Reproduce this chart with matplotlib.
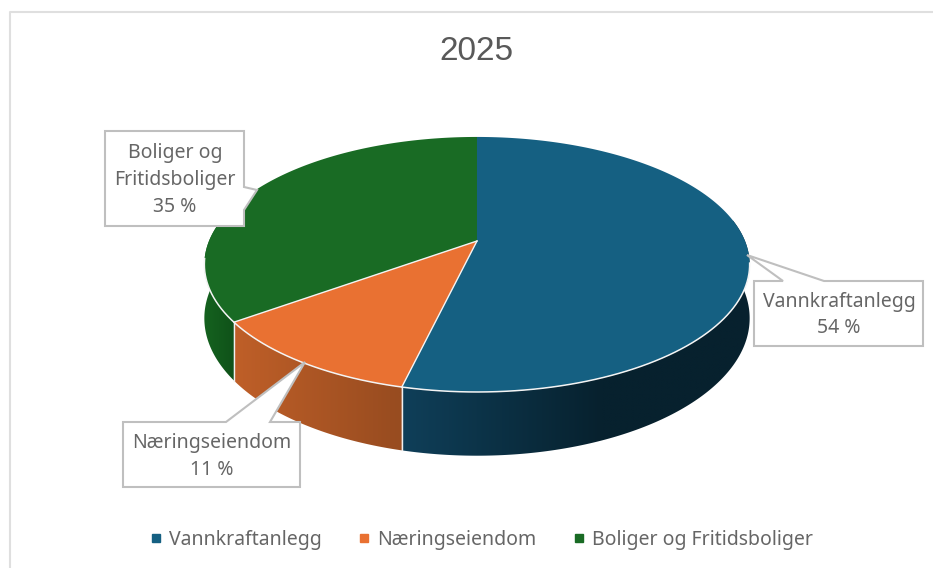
import numpy as np
import matplotlib
matplotlib.use("Agg")
import matplotlib.pyplot as plt
from matplotlib.lines import Line2D
from matplotlib.patches import Polygon
from matplotlib.colors import to_rgb

title = "2025"
categories = ["Vannkraftanlegg", "Næringseiendom", "Boliger og Fritidsboliger"]
values = [53.7, 11.3, 35.0]
label_lines = ["Vannkraftanlegg", "Næringseiendom", "Boliger og\nFritidsboliger"]
colors = ["#156082", "#E97132", "#196B24"]
side_left = ["#0F3F59", "#BF5F28", "#15621F"]
side_right = ["#07212E", "#984C20", "#0E4F18"]
side_span = [200, 165, 35]

W, H = 933, 568
CX, CY, B, A, K = 477.0, 241.0, 268.0, 123.2, 0.184
D = 52.0
TXT = "#666666"
FONT = "Noto Sans"


def project(theta):
    u, v = np.sin(theta), np.cos(theta)
    den = 1 + K * v
    return CX + B * u / den, CY - A * v / den


def project_low(theta):
    x, y = project(theta)
    return x, y + D / (1 + K * np.cos(theta))


fig = plt.figure(figsize=(W / 100, H / 100), dpi=100, facecolor="white")
ax = fig.add_axes([0, 0, 1, 1])
ax.axis("off")

# chart frame (only top and left fall inside the image)
ax.plot([W, 9.5, 9.5], [11.5, 11.5, H], color="#DFDFDF", lw=1.5, zorder=1)

edges = np.r_[0, np.cumsum(values)] / sum(values) * 2 * np.pi

# side wall, shaded from left to right
for i in range(len(values)):
    a0_v, a1_v = max(edges[i], np.radians(80)), min(edges[i + 1], np.radians(285))
    if a1_v <= a0_v:
        continue
    th = np.linspace(a0_v, a1_v, 200)
    xa, ya = project(th)
    xb, yb = project_low(th)
    lo, hi = xa.min(), xa.max()
    cols = np.linspace(lo, hi, 300)
    f = np.clip((cols - lo) / side_span[i], 0, 1)[None, :, None]
    c0, c1 = np.array(to_rgb(side_left[i])), np.array(to_rgb(side_right[i]))
    img = ax.imshow(c0 + (c1 - c0) * f, extent=(lo, hi, yb.max() + 1, min(ya.min(), yb.min()) - 1),
                    aspect="auto", interpolation="bilinear", zorder=2)
    poly = Polygon(np.c_[np.r_[xa, xb[::-1]], np.r_[ya, yb[::-1]]], transform=ax.transData,
                   facecolor="none", edgecolor="none")
    ax.add_patch(poly)
    img.set_clip_path(poly)

# top face
for i in range(len(values)):
    th = np.linspace(edges[i], edges[i + 1], 200)
    x, y = project(th)
    ax.fill(np.r_[CX, x], np.r_[CY, y], facecolor=colors[i], edgecolor="none", zorder=3)

# white seams
for a in edges[1:3]:
    x, y = project(a)
    ax.plot([CX, x], [CY, y], color="#F4F4F4", lw=1.0, zorder=4)
    x2, y2 = project_low(a)
    ax.plot([x, x2], [y, y2], color="#F0F0F0", lw=1.0, zorder=4)
x, y = project(np.linspace(np.radians(100), np.radians(262), 200))
ax.plot(x, y, color="#F4F4F4", lw=1.1, zorder=4)

# callouts
boxes = [
    [(754, 281), (783, 281), (747, 255), (824, 281), (923, 281), (923, 346), (754, 346)],
    [(123, 422), (226, 422), (305, 362), (270, 422), (300, 422), (300, 487), (123, 487)],
    [(105, 131), (244, 131), (244, 187), (257, 190), (244, 210), (244, 226), (105, 226)],
]
label_pos = [(839, 315), (212, 456.5), (175, 180)]
for i in range(3):
    px, py = zip(*boxes[i])
    ax.fill(px, py, facecolor="white", edgecolor="#BFBFBF", lw=1.5, zorder=5, joinstyle="miter")
    ax.text(*label_pos[i], f"{label_lines[i]}\n{values[i]:.0f} %", ha="center", va="center",
            fontsize=14, color=TXT, family=FONT, linespacing=1.45, zorder=6)

ax.text(476, 52, title, ha="center", va="center", fontsize=24, color="#595959",
        family="Liberation Sans")

handles = [Line2D([], [], ls="none", marker="s", ms=6, color=c) for c in colors]
ax.legend(handles, categories, loc="center", bbox_to_anchor=(482 / W, 1 - 540 / H), ncol=3,
          frameon=False, prop={"family": FONT, "size": 14}, labelcolor=TXT,
          handlelength=0.5, handletextpad=0.4, columnspacing=1.95, borderpad=0, borderaxespad=0)

ax.set_xlim(0, W)
ax.set_ylim(H, 0)
fig.savefig("out.png", dpi=100, facecolor="white")
